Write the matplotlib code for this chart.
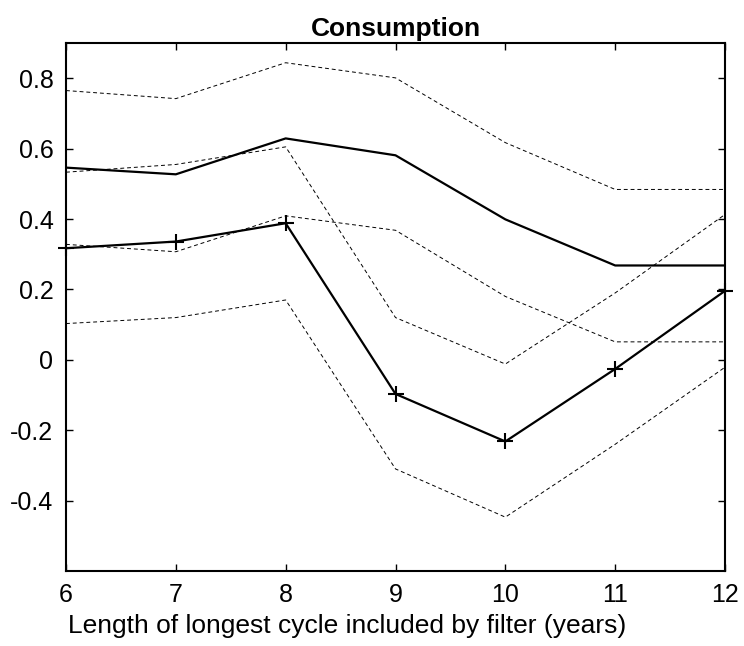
import matplotlib
matplotlib.use("Agg")
import matplotlib.pyplot as plt

plt.rcParams['font.family'] = ['Liberation Sans', 'DejaVu Sans']

years = [6, 7, 8, 9, 10, 11, 12]

# solid line without markers and its dashed band
upper_mid = [0.546, 0.527, 0.629, 0.581, 0.399, 0.268, 0.268]
upper_hi = [0.765, 0.742, 0.844, 0.801, 0.617, 0.484, 0.484]
upper_lo = [0.328, 0.307, 0.409, 0.368, 0.180, 0.051, 0.051]

# solid line with + markers and its dashed band
lower_mid = [0.317, 0.336, 0.388, -0.097, -0.232, -0.026, 0.196]
lower_hi = [0.533, 0.555, 0.605, 0.120, -0.012, 0.190, 0.413]
lower_lo = [0.103, 0.120, 0.170, -0.310, -0.447, -0.240, -0.021]

yticks = [-0.4, -0.2, 0, 0.2, 0.4, 0.6, 0.8]
ytick_labels = ['-0.4', '-0.2', '0', '0.2', '0.4', '0.6', '0.8']

fig = plt.figure(figsize=(7.44, 6.46), dpi=100)
ax = fig.add_axes([0.0887, 0.1161, 0.8858, 0.8173])

dash = dict(color='black', lw=0.7, dashes=(4, 3))
ax.plot(years, upper_hi, **dash)
ax.plot(years, upper_lo, **dash)
ax.plot(years, lower_hi, **dash)
ax.plot(years, lower_lo, **dash)
ax.plot(years, upper_mid, color='black', lw=1.6)
ax.plot(years, lower_mid, color='black', lw=1.6, marker='+', ms=11, mew=1.5,
        clip_on=False)

ax.set_xlim(6, 12)
ax.set_ylim(-0.6, 0.9)
ax.set_xticks(years)
ax.set_yticks(yticks)
ax.set_yticklabels(ytick_labels)
ax.tick_params(direction='in', top=True, right=True, length=5, width=1,
               labelsize=18, pad=9)
for s in ax.spines.values():
    s.set_linewidth(1.5)

ax.set_title('Consumption', fontsize=19, fontweight='bold', pad=5)
ax.set_xlabel('Length of longest cycle included by filter (years)', fontsize=19)
ax.xaxis.set_label_coords(0.427, -0.082)

fig.savefig('out.png', dpi=100)
